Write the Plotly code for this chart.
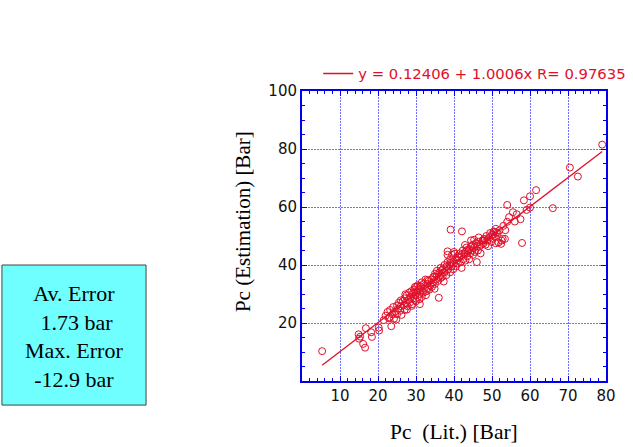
import plotly.graph_objects as go

# ---- data ----
pc_lit = [
    5.3, 14.9, 15.3, 15.0, 16.1, 16.6, 16.8, 18.2, 18.4, 20.2, 20.3, 23.5, 22.9,
    21.5, 22.0, 22.5, 23.0, 23.2, 23.8, 24.0, 24.2, 24.5, 25.0, 25.0, 25.3, 25.5, 25.8, 26.0, 26.2, 26.5, 26.8, 27.0, 27.0,
    27.3, 27.5, 27.8, 28.0, 28.2, 28.5, 28.5, 28.8, 29.0, 29.0, 29.3, 29.5, 29.8, 30.0, 30.0, 30.2, 30.5, 30.5, 30.8,
    31.0, 31.0, 31.2, 31.5, 31.5, 31.8, 32.0, 32.0, 32.3, 32.5, 32.8, 33.0, 33.0, 33.3, 33.5, 33.8,
    34.0, 34.2, 34.5, 34.8, 35.0, 35.0, 35.3, 35.5, 35.5, 35.8, 36.0, 36.0, 36.2, 36.5, 36.5, 36.8, 37.0, 37.0, 37.3,
    37.5, 37.5, 37.8, 38.0, 38.0, 38.3, 38.5, 38.8, 39.0, 39.0, 39.3, 39.5, 39.5, 39.8, 40.0, 40.0, 40.3, 40.5, 40.8,
    38.3, 38.3, 40.2, 39.1, 42.1,
    41.0, 41.0, 41.3, 41.5, 41.8, 42.0, 42.0, 42.3, 42.5, 42.8, 43.0, 43.0, 43.3, 43.5, 43.8, 44.0, 44.0, 44.3, 44.5,
    44.8, 45.0, 45.0, 45.3, 45.5, 45.8, 46.0, 46.0, 46.3, 46.5, 46.8, 47.0, 47.0, 47.5, 42.9, 45.3, 47.7, 44.5, 46.5,
    47.8, 48.0, 48.3, 48.5, 48.8, 49.0, 49.3, 49.5, 49.8, 50.0, 50.2, 50.5, 50.8, 51.0, 51.0, 51.5, 51.7, 52.0, 52.4,
    52.8, 53.0, 53.4, 53.5, 50.3, 51.2, 52.5,
    54.0, 54.0, 54.5, 55.5, 56.0, 56.5, 57.5, 57.9, 58.4, 59.1, 60.0, 60.0, 61.6, 66.0, 70.5, 72.6, 79.0,
    26.0, 29.5, 31.0, 33.0, 34.5, 36.8, 39.0, 43.5, 48.0, 50.5,
    24.8, 27.6, 28.9, 30.9, 32.6, 34.9, 27.2, 29.7,
]
pc_est = [
    10.3, 16.1, 15.3, 14.6, 12.8, 11.5, 18.2, 16.8, 15.2, 18.4, 17.4, 18.9, 21.6,
    21.0, 22.5, 23.8, 22.0, 24.5, 23.0, 25.5, 21.5, 24.0, 26.0, 23.0, 25.0, 27.0, 24.2, 25.8, 22.8, 27.5, 26.2, 28.5, 24.5,
    27.0, 29.5, 25.8, 28.0, 30.5, 27.2, 29.0, 31.0, 26.5, 30.0, 28.5, 31.5, 29.5, 32.5, 27.5, 30.8, 29.0, 33.0, 31.5,
    26.5, 30.0, 32.5, 34.0, 29.0, 31.0, 33.5, 30.5, 32.0, 35.0, 31.0, 33.5, 32.0, 34.5, 31.5, 33.0,
    35.0, 32.5, 34.0, 36.0, 33.5, 37.0, 35.0, 36.5, 38.0, 34.5, 36.0, 28.7, 37.5, 35.5, 39.0, 37.0, 38.5, 36.0, 34.3,
    37.5, 40.0, 38.0, 39.5, 36.5, 41.0, 38.5, 40.0, 37.5, 42.0, 39.5, 41.0, 43.5, 38.5, 40.5, 44.5, 42.0, 39.5, 41.5,
    44.7, 43.5, 43.9, 52.2, 51.6,
    43.0, 40.5, 42.5, 44.0, 41.0, 43.5, 39.0, 45.0, 42.0, 43.8, 44.5, 41.5, 46.0, 43.0, 44.8, 45.5, 42.0, 44.0, 46.5,
    45.0, 43.5, 47.0, 46.0, 44.5, 47.5, 41.0, 46.5, 45.0, 48.0, 46.5, 47.0, 44.0, 48.5, 46.9, 48.7, 48.4, 48.5, 49.5,
    47.5, 49.0, 47.0, 50.0, 48.5, 46.5, 49.5, 51.0, 48.0, 50.5, 49.0, 51.5, 50.0, 52.5, 47.5, 51.0, 47.8, 52.0, 47.3,
    49.0, 53.5, 49.0, 52.0, 50.4, 51.3, 48.4,
    54.9, 60.7, 56.5, 58.2, 55.0, 57.5, 55.8, 47.6, 62.3, 59.0, 63.7, 59.8, 65.8, 59.6, 73.6, 70.5, 81.5,
    27.8, 30.5, 32.8, 34.8, 35.8, 38.2, 40.8, 45.2, 48.8, 51.5,
    21.2, 24.6, 25.9, 28.2, 29.6, 31.8, 29.9, 32.4,
]
fit_intercept = 0.12406
fit_slope = 1.0006
fit_r = 0.97635

x_ticks = [10, 20, 30, 40, 50, 60, 70, 80]
y_ticks = [20, 40, 60, 80, 100]

RED = "#E0102A"
BLUE = "#0000EE"
GRID = "#7070FF"

x_fit = [min(pc_lit), max(pc_lit)]
y_fit = [fit_intercept + fit_slope * v for v in x_fit]

fig = go.Figure()
fig.add_trace(go.Scatter(
    x=pc_lit, y=pc_est, mode="markers", showlegend=False,
    marker=dict(symbol="circle-open", size=7, color=RED, line=dict(width=1, color=RED)),
))
fig.add_trace(go.Scatter(
    x=x_fit, y=y_fit, mode="lines", line=dict(color=RED, width=1.3),
    name=f"y = {fit_intercept} + {fit_slope}x R= {fit_r}", showlegend=True,
))

axis_common = dict(
    showline=True, linecolor=BLUE, linewidth=2, mirror="allticks",
    ticks="inside", ticklen=5, tickcolor=BLUE, tickwidth=1,
    showgrid=True, gridcolor=GRID, griddash="2px,1px", gridwidth=1,
    zeroline=False,
    tickfont=dict(family="DejaVu Sans", size=15, color="#111111"),
)

fig.update_xaxes(
    range=[0, 80], tickvals=x_ticks, ticktext=[str(v) for v in x_ticks],
    minor=dict(dtick=2, tick0=0, ticks="inside", ticklen=3, tickcolor=BLUE, showgrid=False),
    **axis_common,
)
fig.update_yaxes(
    range=[0, 100], tickvals=y_ticks, ticktext=[str(v) for v in y_ticks],
    minor=dict(dtick=5, tick0=0, ticks="inside", ticklen=3, tickcolor=BLUE, showgrid=False),
    **axis_common,
)

fig.update_layout(
    width=633, height=447,
    margin=dict(l=302, r=27, t=91, b=66, autoexpand=False),
    paper_bgcolor="white", plot_bgcolor="white",
    legend=dict(
        x=1.083, y=1.059, xanchor="right", yanchor="middle",
        font=dict(family="DejaVu Sans", size=14.8, color=RED),
        bgcolor="rgba(0,0,0,0)", borderwidth=0, itemwidth=30,
    ),
    shapes=[dict(
        type="rect", xref="paper", yref="paper",
        x0=-0.987, x1=-0.513, y0=-0.083, y1=0.40,
        fillcolor="#6FFFFF", line=dict(color="#444444", width=1), layer="below",
    )],
    annotations=[
        dict(xref="paper", yref="paper", x=-0.75, y=0.152, xanchor="center", yanchor="middle",
             showarrow=False, align="center",
             text="Av. Error<br> 1.73 bar<br>Max. Error<br>-12.9 bar",
             font=dict(family="Liberation Serif", size=22, color="black")),
        dict(xref="paper", yref="paper", x=0.5, y=-0.176, xanchor="center", yanchor="middle",
             showarrow=False, text="Pc \u00a0(Lit.) [Bar]",
             font=dict(family="Liberation Serif", size=21.5, color="black")),
        dict(xref="paper", yref="paper", x=-0.194, y=0.548, xanchor="center", yanchor="middle",
             showarrow=False, text="Pc (Estimation) [Bar]", textangle=-90,
             font=dict(family="Liberation Serif", size=21, color="black")),
    ],
)

fig.write_html("out.html")
